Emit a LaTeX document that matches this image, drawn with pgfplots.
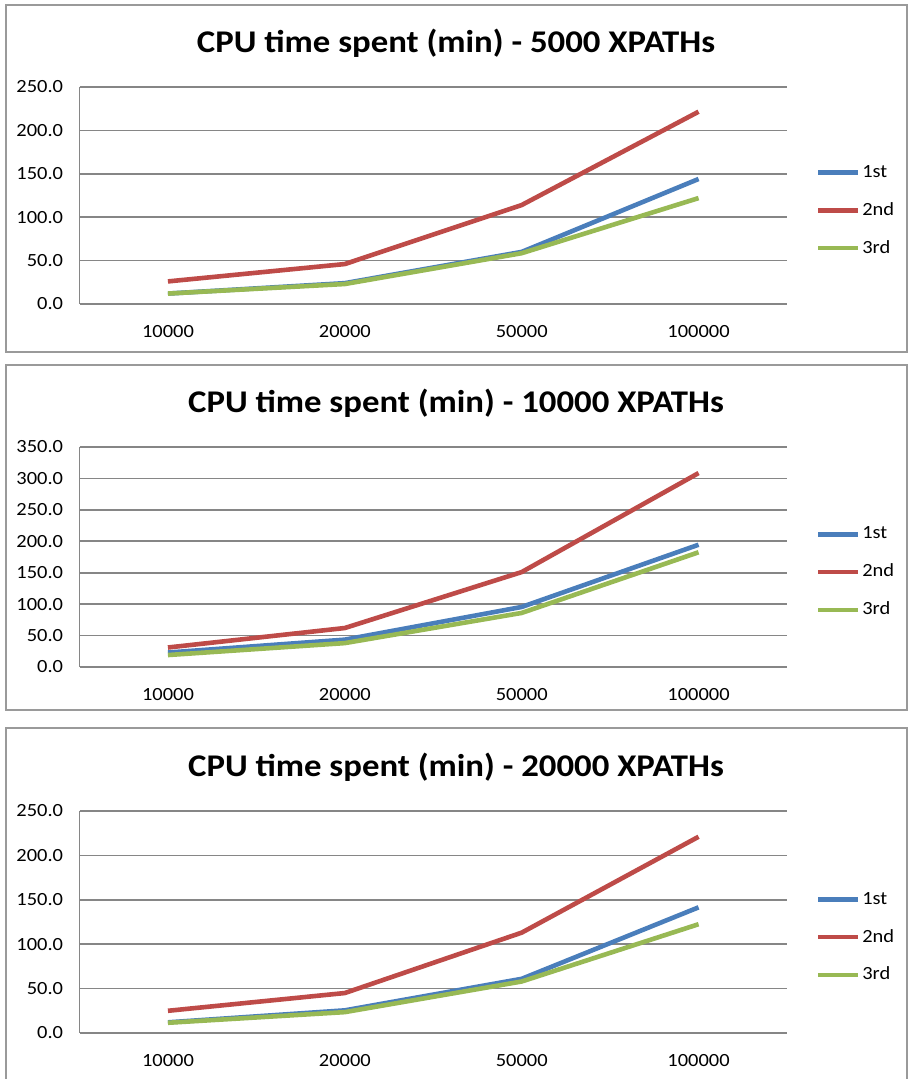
\documentclass[border=0pt]{standalone}
\usepackage{pgfplots}
\pgfplotsset{compat=1.18}
\usepackage{fontspec}
\setmainfont[FakeStretch=1.1]{Carlito}
\definecolor{cblue}{HTML}{4A7EBB}
\definecolor{cred}{HTML}{BE4B48}
\definecolor{cgreen}{HTML}{98B954}
\definecolor{gridgray}{HTML}{868686}
\definecolor{boxgray}{HTML}{9A9A9A}
\pgfplotsset{
  cpu/.style={
    scale only axis,
    width=353.75pt,
    xmin=-0.5, xmax=3.5,
    xtick={0,1,2,3},
    xticklabels={10000,20000,50000,100000},
    ymin=0,
    axis lines=left,
    axis line style={draw=gridgray, line width=0.8pt, -},
    major tick length=0pt,
    ymajorgrids,
    grid style={draw=gridgray, line width=0.8pt},
    tick label style={font=\fontsize{9.3}{10}\selectfont, text=black},
    /pgf/number format/assume math mode=true,
    yticklabel style={/pgf/number format/fixed, /pgf/number format/fixed zerofill, /pgf/number format/precision=1, xshift=-4.7pt},
    xticklabel style={anchor=center, yshift=-14pt},
    legend style={at={(1.04,0.43)}, anchor=west, draw=none, fill=none,
      font=\fontsize{9.3}{10}\selectfont, row sep=7pt, inner sep=0pt,
      nodes={inner xsep=1pt}},
    legend cell align=left,
    legend image code/.code={\draw[##1] (0pt,0pt) -- (20pt,0pt);},
    every axis plot/.append style={line width=2.3pt, line join=round, no markers},
  }
}
\begin{document}
\begin{tikzpicture}
\useasboundingbox (0pt,0pt) rectangle (454.5pt,539.5pt);
% panel frames
\draw[boxgray, line width=1pt] (3pt,363.5pt) rectangle (453.5pt,537pt);
\draw[boxgray, line width=1pt] (3pt,184.5pt) rectangle (453.5pt,357pt);
\draw[boxgray, line width=1pt] (3pt,-1pt) -- (3pt,175.5pt) -- (453.5pt,175.5pt) -- (453.5pt,-1pt);
% titles
\node[font=\bfseries\fontsize{15.8}{18}\selectfont] at (228pt,518pt) {CPU time spent (min) - 5000 XPATHs};
\node[font=\bfseries\fontsize{15.8}{18}\selectfont] at (228pt,338pt) {CPU time spent (min) - 10000 XPATHs};
\node[font=\bfseries\fontsize{15.8}{18}\selectfont] at (228pt,156pt) {CPU time spent (min) - 20000 XPATHs};

% panel 1
\begin{axis}[cpu, at={(39.75pt,387.5pt)}, anchor=south west, height=108.5pt,
  ymax=250, ytick={0,50,100,150,200,250}]
\addplot[cblue] coordinates {(0,12) (1,24) (2,60) (3,144)};
\addplot[cred] coordinates {(0,26) (1,46) (2,114) (3,221.5)};
\addplot[cgreen] coordinates {(0,12) (1,23) (2,58.5) (3,122)};
\legend{1st,2nd,3rd}
\end{axis}

% panel 2
\begin{axis}[cpu, at={(39.75pt,206pt)}, anchor=south west, height=110pt,
  ymax=350, ytick={0,50,100,150,200,250,300,350}]
\addplot[cblue] coordinates {(0,23) (1,43.5) (2,95.5) (3,194.5)};
\addplot[cred] coordinates {(0,31) (1,62) (2,151) (3,308.5)};
\addplot[cgreen] coordinates {(0,19) (1,38) (2,86) (3,182.5)};
\legend{1st,2nd,3rd}
\end{axis}

% panel 3
\begin{axis}[cpu, at={(39.75pt,23pt)}, anchor=south west, height=111pt,
  ymax=250, ytick={0,50,100,150,200,250}]
\addplot[cblue] coordinates {(0,12) (1,25.5) (2,61) (3,141.5)};
\addplot[cred] coordinates {(0,25) (1,45) (2,113) (3,221)};
\addplot[cgreen] coordinates {(0,11.5) (1,23.5) (2,58) (3,122.5)};
\legend{1st,2nd,3rd}
\end{axis}
\end{tikzpicture}
\end{document}
